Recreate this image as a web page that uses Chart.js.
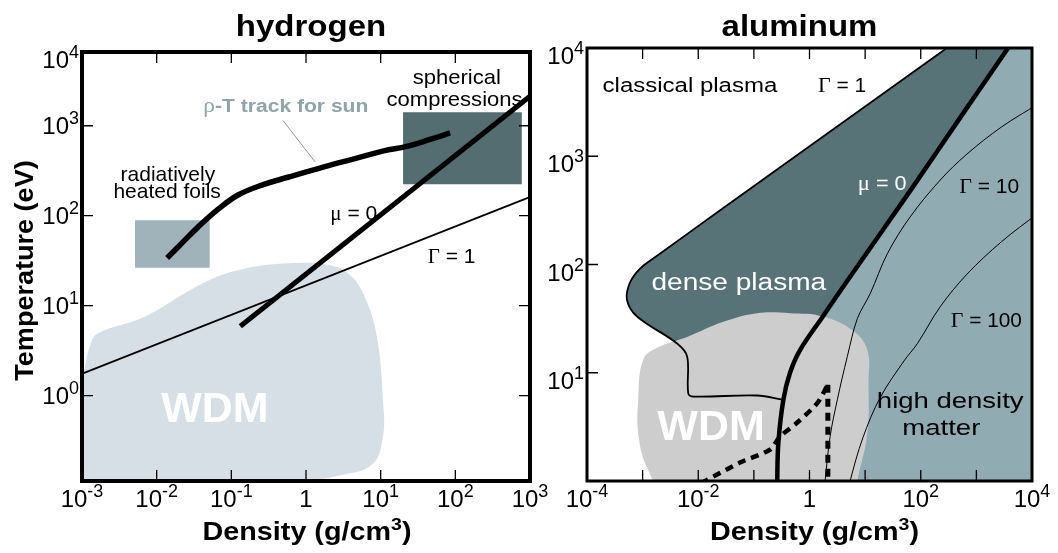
<!DOCTYPE html>
<html>
<head>
<meta charset="utf-8">
<script src="https://cdn.jsdelivr.net/npm/chart.js@4.4.1/dist/chart.umd.min.js"></script>
<style>
html, body { margin: 0; padding: 0; background: #fff; }
#wrap { position: relative; width: 1058px; height: 553px; overflow: hidden; }
canvas { position: absolute; top: 0; }
#hydro { left: 0; }
#alu { left: 540px; }
</style>
</head>
<body>
<div id="wrap">
  <canvas id="hydro" width="560" height="553"></canvas>
  <canvas id="alu" width="518" height="553"></canvas>
</div>
<script>
// all values are log10: [log10 density (g/cm3), log10 temperature (eV)]

// --- hydrogen ---
const hXTicks = [-3, -2, -1, 0, 1, 2, 3];
const hYTicks = [0, 1, 2, 3];
const hWdm = [[-1.0, -1.1], [-3.2, -1.1], [-3.02, 0.1], [-2.96, 0.32], [-2.89, 0.56], [-2.79, 0.69],
  [-2.18, 0.87], [-1.38, 1.25], [-0.88, 1.40], [-0.22, 1.47], [0.32, 1.45], [0.59, 1.34], [0.79, 1.09],
  [0.95, 0.65], [1.03, -0.05], [1.03, -0.46], [0.88, -0.77], [0.39, -0.90], [-0.01, -0.97], [-0.3, -1.1]];
const hGamma1 = [[-3.1, 0.21], [3.1, 2.24]];
const hMu0 = [[-0.88, 0.77], [3.2, 3.46]];
const hSunTrack = [[-1.86, 1.53], [-1.68, 1.68], [-1.45, 1.87], [-1.18, 2.07], [-0.91, 2.23],
  [-0.59, 2.34], [-0.23, 2.43], [0.23, 2.54], [0.68, 2.64], [1.04, 2.72], [1.35, 2.77],
  [1.67, 2.85], [1.93, 2.92]];
const hSunPointer = [[-0.31, 3.06], [0.12, 2.60]];
const hFoilsX = [-2.29, -1.29];
const hFoilsY = [1.42, 1.95];
const hSphereX = [1.30, 2.89];
const hSphereY = [2.35, 3.15];

// --- aluminum ---
const aXTicks = [-4, -3, -2, -1, 0, 1, 2, 3, 4];
const aXLabels = [-4, -2, 0, 2, 4];
const aYTicks = [1, 2, 3];
const aYLabels = [1, 2, 3, 4];
const aMu0 = [[3.84, 4.2], [3.57, 4.0], [2.7, 3.35], [1.85, 2.71], [0.68, 1.85], [0.24, 1.52],
  [-0.17, 1.21], [-0.35, 1.0], [-0.47, 0.75], [-0.56, 0.35], [-0.58, 0.0], [-0.58, -0.2]];
const aGamma1 = [[3.01, 4.2], [2.47, 4.0], [1.0, 3.46], [-1.5, 2.54], [-2.74, 2.08], [-3.05, 1.96],
  [-3.23, 1.83], [-3.28, 1.67], [-3.10, 1.52], [-2.38, 1.27], [-2.20, 1.15], [-2.18, 0.81],
  [-2.09, 0.78], [-0.94, 0.79], [-0.47, 0.75]];
const aGamma10 = [[4.1, 3.48], [3.45, 3.27], [2.83, 3.02], [2.35, 2.78], [1.81, 2.44], [1.40, 2.10],
  [1.09, 1.73], [0.86, 1.50], [0.68, 1.15], [0.50, 0.75], [0.37, 0.41], [0.28, 0.0], [0.26, -0.1]];
const aGamma100 = [[4.1, 2.47], [3.45, 2.21], [2.83, 1.91], [2.35, 1.61], [1.94, 1.27], [1.70, 1.11],
  [1.27, 0.77], [0.96, 0.40], [0.73, 0.0], [0.70, -0.1]];
const aWdm = [[-1.0, -0.2], [-2.6, -0.1], [-2.9, 0.1], [-3.07, 0.4], [-3.08, 0.75], [-2.99, 1.12],
  [-2.74, 1.23], [-2.20, 1.33], [-1.55, 1.47], [-0.94, 1.55], [-0.35, 1.55], [0.24, 1.52],
  [0.78, 1.39], [1.04, 1.21], [1.06, 0.91], [1.04, 0.44], [0.86, 0.0], [0.8, -0.2]];
const aDashCurve = [[-1.95, -0.02], [-1.25, 0.17], [-0.71, 0.29], [-0.53, 0.41], [-0.22, 0.54],
  [0.14, 0.72], [0.33, 0.89]];
const aDashVert = [[0.33, 0.89], [0.33, -0.1]];

const SANS = '"Liberation Sans", Arial, Helvetica, sans-serif';
const SERIF = '"Liberation Serif", "Times New Roman", serif';
const font = (size, bold) => (bold ? 'bold ' : '') + size + 'px ' + SANS;
const serif = size => size + 'px ' + SERIF;

const toPts = arr => arr.map(([x, y]) => ({ x: Math.pow(10, x), y: Math.pow(10, y) }));
const rect = (xs, ys) => [[xs[0], ys[0]], [xs[1], ys[0]], [xs[1], ys[1]], [xs[0], ys[1]], [xs[0], ys[0]]];

function lineSet(arr, color, width, tension, dash) {
  return {
    data: toPts(arr), showLine: true, fill: false, borderColor: color, borderWidth: width,
    tension: tension, borderDash: dash || [], pointRadius: 0, pointHoverRadius: 0
  };
}
function fillSet(arr, color, tension) {
  return {
    data: toPts(arr), showLine: true, fill: 'shape', backgroundColor: color,
    borderColor: 'rgba(0,0,0,0)', borderWidth: 0, tension: tension, pointRadius: 0, pointHoverRadius: 0
  };
}

function drawRich(ctx, parts, x, y, opt) {
  opt = opt || {};
  ctx.save();
  ctx.translate(x, y);
  if (opt.rotate) ctx.rotate(opt.rotate);
  ctx.scale(opt.stretch || 1, 1);
  ctx.fillStyle = opt.color || '#000';
  ctx.textAlign = 'left';
  ctx.textBaseline = 'alphabetic';
  let total = 0;
  const widths = parts.map(p => { ctx.font = p[1]; const w = ctx.measureText(p[0]).width; total += w; return w; });
  let cx = opt.align === 'right' ? -total : (opt.align === 'left' ? 0 : -total / 2);
  parts.forEach((p, i) => { ctx.font = p[1]; ctx.fillText(p[0], cx, p[2] || 0); cx += widths[i]; });
  ctx.restore();
}

// tick label: 10 with superscript exponent, "1" for 10^0 on density axes
function powParts(e, oneAsText) {
  if (e === 0 && oneAsText) return [['1', font(24)]];
  return [['10', font(24)], [String(e), font(18), -10]];
}

function drawDecor(chart, cfg) {
  const { ctx, chartArea: a } = chart;
  const X = e => chart.scales.x.getPixelForValue(Math.pow(10, e));
  const Y = e => chart.scales.y.getPixelForValue(Math.pow(10, e));
  ctx.save();
  ctx.strokeStyle = '#000';
  ctx.lineWidth = 1.3;
  ctx.beginPath();
  cfg.xTicks.forEach(e => {
    if (e === cfg.xTicks[0] || e === cfg.xTicks[cfg.xTicks.length - 1]) return;
    const px = X(e);
    ctx.moveTo(px, a.top); ctx.lineTo(px, a.top + 11);
    ctx.moveTo(px, a.bottom); ctx.lineTo(px, a.bottom - 11);
  });
  cfg.yTicks.forEach(e => {
    const py = Y(e);
    ctx.moveTo(a.left, py); ctx.lineTo(a.left + 11, py);
    if (cfg.rightTicks) { ctx.moveTo(a.right, py); ctx.lineTo(a.right - 11, py); }
  });
  ctx.stroke();
  ctx.lineWidth = cfg.frameWidth;
  ctx.strokeRect(a.left, a.top, a.right - a.left, a.bottom - a.top);
  ctx.restore();

  cfg.xLabels.forEach(e => drawRich(ctx, powParts(e, true), X(e), a.bottom + 26));
  cfg.yLabels.forEach(e => drawRich(ctx, powParts(e, false), a.left - 3, Y(e) + cfg.yLabelDy, { align: 'right' }));
  if (cfg.topLabel !== undefined) drawRich(ctx, powParts(cfg.topLabel, false), a.left - 3, a.top + 16, { align: 'right' });

  const midX = (a.left + a.right) / 2;
  drawRich(ctx, [[cfg.title, font(30, true)]], midX + cfg.titleDx, 36, { stretch: 1.1 });
  drawRich(ctx, [['Density (g/cm', font(25, true)], ['3', font(17, true), -10], [')', font(25, true)]],
    midX + cfg.xTitleDx, 540, { stretch: 1.15 });
  if (cfg.yTitle) {
    drawRich(ctx, [[cfg.yTitle, font(26, true)]], 33, (a.top + a.bottom) / 2 + 4, { rotate: -Math.PI / 2, stretch: 1.04 });
  }
  cfg.notes.forEach(n => drawRich(ctx, n.parts, X(n.at[0]), Y(n.at[1]), { stretch: n.stretch, color: n.color }));
}

function makePanel(id, cfg) {
  return new Chart(document.getElementById(id), {
    type: 'scatter',
    data: { datasets: cfg.datasets },
    options: {
      responsive: false,
      animation: false,
      devicePixelRatio: 1,
      events: [],
      layout: { padding: cfg.padding },
      elements: { point: { radius: 0, hoverRadius: 0 } },
      plugins: { legend: { display: false }, tooltip: { enabled: false } },
      scales: {
        x: { type: 'logarithmic', display: false, bounds: 'data', min: Math.pow(10, cfg.xRange[0]), max: Math.pow(10, cfg.xRange[1]) },
        y: { type: 'logarithmic', display: false, bounds: 'data', min: Math.pow(10, cfg.yRange[0]), max: Math.pow(10, cfg.yRange[1]) }
      }
    },
    plugins: [{ id: 'decor', afterDraw: chart => drawDecor(chart, cfg) }]
  });
}

// datasets are listed top-most first
makePanel('hydro', {
  padding: { left: 82, right: 30, top: 52, bottom: 72 },
  xRange: [-3, 3], yRange: [-0.95, 3.82],
  xTicks: hXTicks, yTicks: hYTicks, xLabels: hXTicks, yLabels: hYTicks, topLabel: 4,
  yLabelDy: 8, rightTicks: true, frameWidth: 4,
  title: 'hydrogen', titleDx: 5, xTitleDx: 1, yTitle: 'Temperature (eV)',
  datasets: [
    lineSet(hSunTrack, '#000', 5.5, 0.4),
    lineSet(hMu0, '#000', 5, 0),
    lineSet(hGamma1, '#000', 1.8, 0),
    lineSet(hSunPointer, '#8c9aa0', 1, 0),
    fillSet(rect(hSphereX, hSphereY), '#536d71', 0),
    fillSet(rect(hFoilsX, hFoilsY), '#a0b3bb', 0),
    fillSet(hWdm, '#d6dfe6', 0.4)
  ],
  notes: [
    { parts: [['radiatively', font(21)]], at: [-1.85, 2.385] },
    { parts: [['heated foils', font(21)]], at: [-1.86, 2.196] },
    { parts: [['\u03c1', serif(20)], ['-T track for sun', font(18, true)]], at: [-0.27, 3.153], stretch: 1.17, color: '#8ea3aa' },
    { parts: [['spherical', font(21)]], at: [2.02, 3.464], stretch: 1.05 },
    { parts: [['compressions', font(21)]], at: [1.99, 3.219], stretch: 1.05 },
    { parts: [['\u03bc', serif(21)], [' = 0', font(21)]], at: [0.64, 1.951] },
    { parts: [['\u0393', serif(21)], [' = 1', font(21)]], at: [1.95, 1.473] },
    { parts: [['WDM', font(43, true)]], at: [-1.22, -0.296], color: '#ffffff' }
  ]
});

makePanel('alu', {
  padding: { left: 47, right: 26, top: 48, bottom: 72 },
  xRange: [-4, 4], yRange: [0, 4],
  xTicks: aXTicks, yTicks: aYTicks, xLabels: aXLabels, yLabels: aYLabels,
  yLabelDy: 16, rightTicks: false, frameWidth: 3,
  title: 'aluminum', titleDx: -10, xTitleDx: 5,
  datasets: [
    lineSet(aDashVert, '#000', 5, 0, [8, 6]),
    lineSet(aDashCurve, '#000', 4.5, 0.3, [8, 6]),
    lineSet(aMu0, '#000', 4.5, 0.35),
    lineSet(aGamma1, '#000', 1.8, 0.35),
    lineSet(aGamma10, '#000', 1, 0.35),
    lineSet(aGamma100, '#000', 1, 0.35),
    fillSet(aWdm, '#cdcdcd', 0.4),
    fillSet(aGamma1.concat(aMu0.slice(0, 9).reverse()), '#587378', 0.35),
    fillSet(aMu0.concat([[5, -0.2], [5, 4.2]]), '#91abb2', 0.35)
  ],
  notes: [
    { parts: [['classical plasma', font(20)]], at: [-2.15, 3.594], stretch: 1.2 },
    { parts: [['\u0393', serif(21)], [' = 1', font(20)]], at: [0.586, 3.594], stretch: 1.05 },
    { parts: [['\u03bc', serif(21)], [' = 0', font(20)]], at: [1.306, 2.688], stretch: 1.08, color: '#ffffff' },
    { parts: [['\u0393', serif(21)], [' = 10', font(20)]], at: [3.23, 2.66], stretch: 1.05 },
    { parts: [['dense plasma', font(23)]], at: [-1.27, 1.764], stretch: 1.22, color: '#ffffff' },
    { parts: [['\u0393', serif(21)], [' = 100', font(20)]], at: [3.18, 1.423], stretch: 1.04 },
    { parts: [['high density', font(22)]], at: [2.53, 0.674], stretch: 1.25 },
    { parts: [['matter', font(22)]], at: [2.37, 0.425], stretch: 1.25 },
    { parts: [['WDM', font(43, true)]], at: [-1.77, 0.379], color: '#ffffff' }
  ]
});
</script>
</body>
</html>
